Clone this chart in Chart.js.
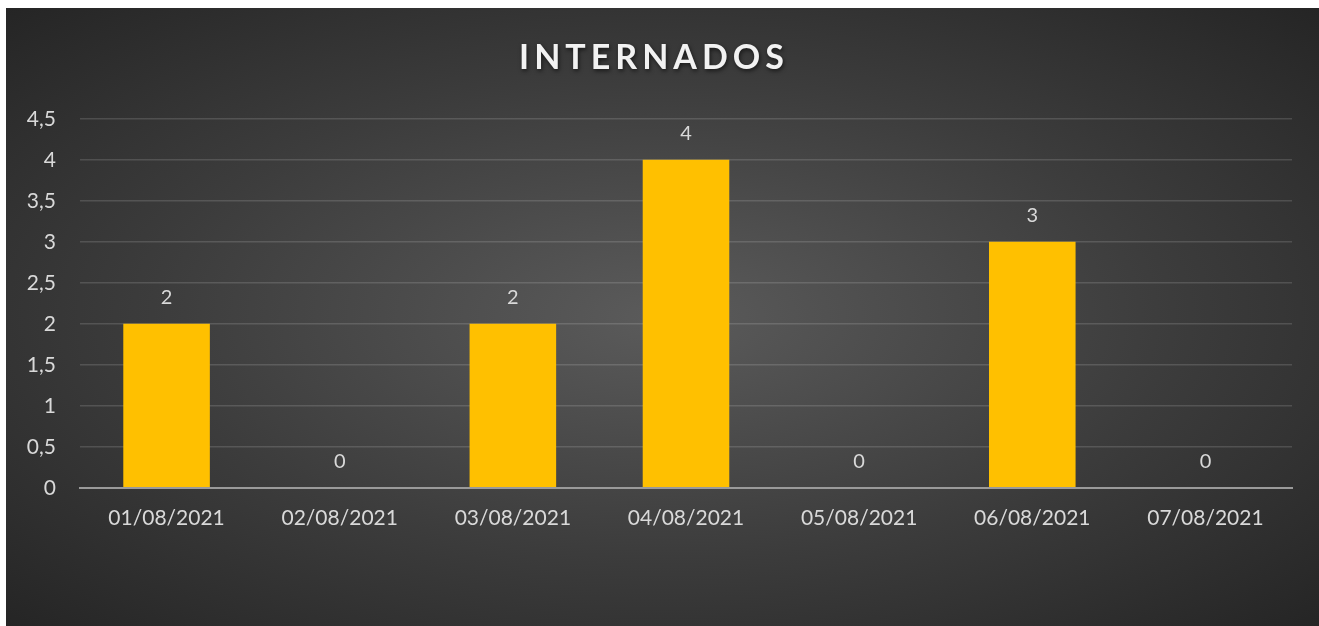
<!DOCTYPE html>
<html>
<head>
<meta charset="utf-8">
<script src="https://cdn.jsdelivr.net/npm/chart.js@4.4.0/dist/chart.umd.min.js"></script>
<style>
  html, body { margin: 0; padding: 0; background: #ffffff; width: 1319px; height: 626px; overflow: hidden; }
  #wrap {
    position: absolute; left: 6px; top: 8px; width: 1313px; height: 618px;
    background: radial-gradient(ellipse farthest-corner at 50% 50%, #5b5b5b 0%, #3c3c3c 55%, #252525 100%);
  }
  canvas { display: block; }
</style>
</head>
<body>
<div id="wrap"><canvas id="c" width="1313" height="618"></canvas></div>
<script>
const chartTitle = 'INTERNADOS';
const categories = ['01/08/2021', '02/08/2021', '03/08/2021', '04/08/2021', '05/08/2021', '06/08/2021', '07/08/2021'];
const values = [2, 0, 2, 4, 0, 3, 0];
const yTickValues = [0, 0.5, 1, 1.5, 2, 2.5, 3, 3.5, 4, 4.5];
const yTickLabels = ['0', '0,5', '1', '1,5', '2', '2,5', '3', '3,5', '4', '4,5'];

const FONT = 'Lato, "Open Sans", sans-serif';

const titleStyle = {
  id: 'titleStyle',
  beforeDraw(chart) {
    const tb = chart.titleBlock;
    if (tb && !tb._patched) {
      const orig = tb.draw;
      tb.draw = function () {
        const ctx = chart.ctx;
        ctx.save();
        ctx.letterSpacing = '5px';
        ctx.shadowColor = 'rgba(0,0,0,0.6)';
        ctx.shadowBlur = 4;
        ctx.shadowOffsetX = 1;
        ctx.shadowOffsetY = 2;
        orig.apply(this, arguments);
        ctx.restore();
      };
      tb._patched = true;
    }
  }
};

const dataLabels = {
  id: 'dataLabels',
  afterDatasetsDraw(chart) {
    const ctx = chart.ctx;
    const meta = chart.getDatasetMeta(0);
    ctx.save();
    ctx.font = '20px ' + FONT;
    ctx.fillStyle = '#d9d9d9';
    ctx.textAlign = 'center';
    ctx.textBaseline = 'middle';
    meta.data.forEach((bar, i) => {
      const v = chart.data.datasets[0].data[i];
      ctx.fillText(String(v), bar.x, bar.y - 26);
    });
    ctx.restore();
  }
};

new Chart(document.getElementById('c'), {
  type: 'bar',
  data: {
    labels: categories,
    datasets: [{
      label: chartTitle,
      data: values,
      backgroundColor: '#FFC000',
      borderWidth: 0,
      barPercentage: 0.5,
      categoryPercentage: 1.0
    }]
  },
  options: {
    responsive: false,
    animation: false,
    layout: { padding: { left: 10, right: 27, top: 0, bottom: 85 } },
    plugins: {
      legend: { display: false },
      tooltip: { enabled: false },
      title: {
        display: true,
        text: chartTitle,
        color: '#f2f2f2',
        font: { family: FONT, size: 34, weight: 'bold' },
        padding: { top: 30, bottom: 40 }
      }
    },
    scales: {
      x: {
        grid: { display: false },
        border: { display: true, color: '#9a9a9a', width: 2 },
        ticks: { color: '#d9d9d9', font: { family: FONT, size: 21 }, padding: 10, maxRotation: 0 }
      },
      y: {
        min: 0,
        max: 4.5,
        afterBuildTicks(scale) { scale.ticks = yTickValues.map(v => ({ value: v })); },
        afterFit(scale) { scale.width = 64; },
        grid: { color: 'rgba(255,255,255,0.14)', lineWidth: 1.5, drawTicks: false },
        border: { display: false },
        ticks: {
          color: '#d9d9d9',
          font: { family: FONT, size: 21 },
          padding: 24,
          callback(value) { const i = yTickValues.indexOf(value); return i >= 0 ? yTickLabels[i] : ''; }
        }
      }
    }
  },
  plugins: [titleStyle, dataLabels]
});
</script>
</body>
</html>
